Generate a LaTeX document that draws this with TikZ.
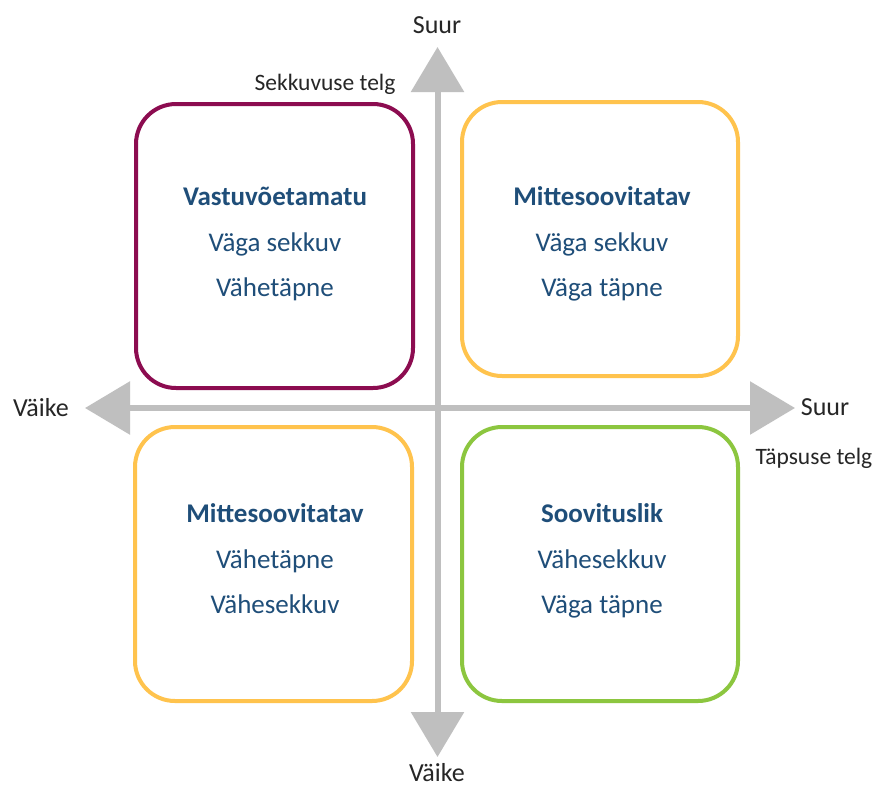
\documentclass[tikz,border=0pt]{standalone}
\usepackage{fontspec}
\setmainfont{Carlito}
\usetikzlibrary{arrows.meta}
\definecolor{txtblue}{HTML}{1F4E79}
\definecolor{plum}{HTML}{8C0C50}
\definecolor{amber}{HTML}{FFC34D}
\definecolor{leaf}{HTML}{8CC63F}
\definecolor{axisgray}{HTML}{BFBFBF}
\definecolor{labelgray}{HTML}{262626}
\tikzset{
  quad/.style={draw, line width=4pt, rounded corners=40pt, inner sep=0pt, outer sep=0pt},
  title/.style={anchor=base, text=txtblue, font=\fontsize{27}{31}\selectfont\bfseries, inner sep=0pt},
  body/.style={anchor=base, text=txtblue, font=\fontsize{27}{31}\selectfont, inner sep=0pt},
  axlabel/.style={anchor=base, text=labelgray, font=\fontsize{26}{30}\selectfont, inner sep=0pt},
  axname/.style={anchor=base, text=labelgray, font=\fontsize{23.5}{28}\selectfont, inner sep=0pt},
  axisline/.style={draw=axisgray, line width=6pt,
    {Triangle[width=52pt,length=45pt,fill=axisgray]}-{Triangle[width=52pt,length=45pt,fill=axisgray]}}
}
\begin{document}
\begin{tikzpicture}[x=1pt,y=-1pt]
\useasboundingbox[fill=white] (0,0) rectangle (878,785);
% axes
\coordinate (ytop) at (437.5,47);
\coordinate (ybot) at (437.5,757);
\coordinate (xleft) at (85,408);
\coordinate (xright) at (795,408);
\draw[axisline] (ybot) -- (ytop);
\draw[axisline] (xleft) -- (xright);
% boxes
\node[quad, draw=plum, minimum width=277pt, minimum height=284pt] (tl) at (274.5,246) {};
\node[quad, draw=amber, minimum width=276pt, minimum height=274pt] (tr) at (600,239) {};
\node[quad, draw=amber, minimum width=277pt, minimum height=274pt] (bl) at (273.5,564) {};
\node[quad, draw=leaf, minimum width=276pt, minimum height=274pt] (br) at (600,564) {};
% box texts
\node[title] (tl1) at (275,205) {Vastuvõetamatu};
\node[body] (tl2) at (275,251) {Väga sekkuv};
\node[body] (tl3) at (275,296) {Vähetäpne};
\node[title] (tr1) at (602,205) {Mittesoovitatav};
\node[body] (tr2) at (602,251) {Väga sekkuv};
\node[body] (tr3) at (602,296) {Väga täpne};
\node[title] (bl1) at (275,522) {Mittesoovitatav};
\node[body] (bl2) at (275,568) {Vähetäpne};
\node[body] (bl3) at (275,613) {Vähesekkuv};
\node[title] (br1) at (602,522) {Soovituslik};
\node[body] (br2) at (602,568) {Vähesekkuv};
\node[body] (br3) at (602,613) {Väga täpne};
% axis labels
\node[axlabel] (lblTop) at (437,33) {Suur};
\node[axlabel] (lblBot) at (437,781) {Väike};
\node[axlabel] (lblLeft) at (41,416) {Väike};
\node[axlabel] (lblRight) at (825,415) {Suur};
\node[axname] (nameY) at (325,90) {Sekkuvuse telg};
\node[axname] (nameX) at (814,464) {Täpsuse telg};
\end{tikzpicture}
\end{document}
